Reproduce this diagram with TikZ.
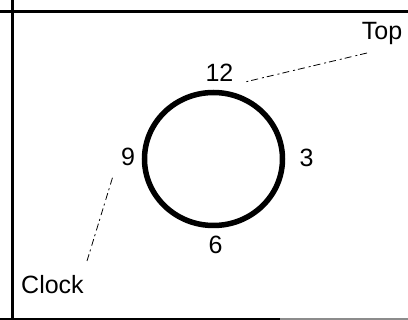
\documentclass[tikz,border=0pt]{standalone}
\usepackage{fontspec}
\setmainfont{Liberation Sans}
\usepackage{tikz}
\usetikzlibrary{shapes.geometric}

\begin{document}
\begin{tikzpicture}[
  x=1pt, y=-1pt,
  hour/.style={anchor=base, inner sep=0pt, font=\fontsize{25}{29}\selectfont},
  callout/.style={anchor=base, inner sep=0pt, font=\fontsize{25}{29}\selectfont},
  dial/.style={ellipse, draw, line width=5.5pt, minimum width=138pt, minimum height=133pt},
  leader/.style={line width=0.8pt, dash pattern=on 7pt off 3pt on 2pt off 4pt},
  frameline/.style={line width=2.5pt}
]
\useasboundingbox (0,0) rectangle (408,320);

% frame
\draw[frameline] (0,11.5) -- (408,11.5);
\draw[line width=3pt] (153,12) -- (242,12);
\draw[frameline] (12.5,0) -- (12.5,320);
\draw[line width=2pt] (0,319) -- (280,319);
\draw[line width=2pt, black!45] (280,319) -- (408,319);

% clock face
\node[dial] (face) at (213.5,159) {};
\node[hour] (twelve) at (219.5,82) {12};
\node[hour] (three) at (306.5,167) {3};
\node[hour] (six) at (215.5,254) {6};
\node[hour] (nine) at (128,166) {9};

% callouts
\node[callout] (top) at (382,40) {Top};
\node[callout] (clock) at (52.5,294) {Clock};
\coordinate (topend) at (367,53);
\coordinate (twelveend) at (245,82);
\coordinate (clockend) at (87,261);
\coordinate (nineend) at (113,176);

\draw[leader] (topend) -- (twelveend);
\draw[leader] (clockend) -- (nineend);
\end{tikzpicture}
\end{document}
